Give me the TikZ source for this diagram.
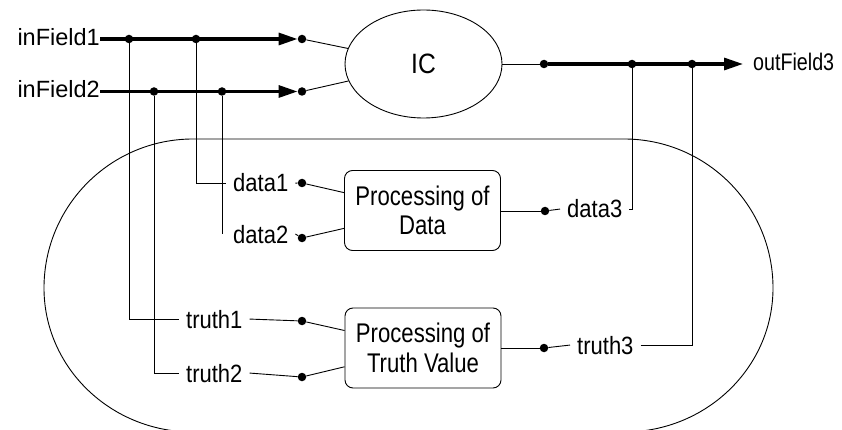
\documentclass[tikz,border=0pt]{standalone}
\usepackage{fontspec}
\setmainfont{Liberation Sans}
\newfontfamily\narrowsans[FakeStretch=0.88]{Liberation Sans}
\newfontfamily\boxsans[FakeStretch=0.82]{Liberation Sans}
\usetikzlibrary{shapes.geometric,arrows.meta}

\begin{document}
\begin{tikzpicture}[x=1pt,y=-1pt,
  wire/.style={line width=0.9pt},
  bus/.style={line width=3.2pt},
  bushead/.style={-{Triangle[length=19pt,width=12pt]}},
  junction/.style={circle,fill,inner sep=0pt,minimum size=8.5pt},
  lbl/.style={inner xsep=7pt,inner ysep=0pt,anchor=base west,font=\narrowsans\fontsize{25}{28}\selectfont},
  portlbl/.style={inner sep=0pt,anchor=base east,font=\fontsize{23.5}{26}\selectfont},
  procbox/.style={draw,line width=0.9pt,rounded corners=8pt,minimum width=156pt,
    minimum height=80pt,align=center,inner sep=0pt,font=\boxsans\fontsize{27}{29.5}\selectfont}
]
\useasboundingbox (0,0) rectangle (842,430);

% enclosing outline of the value processing part
\begin{scope}
  \clip (0,0) rectangle (842,430);
  \draw[wire] (193,139) -- (624,139)
    arc[start angle=90,end angle=0,radius=149pt]
    arc[start angle=0,end angle=-90,x radius=149pt,y radius=144pt]
    -- (193,432)
    arc[start angle=270,end angle=180,x radius=149pt,y radius=144pt]
    arc[start angle=180,end angle=90,radius=149pt];
\end{scope}

% input fields and junctions
\node[portlbl] (in1) at (100,46) {inField1};
\node[portlbl] (in2) at (100,98) {inField2};
\node[junction] (j1a) at (129,39) {};
\node[junction] (j1b) at (196,39) {};
\node[junction] (e1)  at (302,39) {};
\node[junction] (j2a) at (154,91.5) {};
\node[junction] (j2b) at (222,91.5) {};
\node[junction] (e2)  at (302,91.5) {};

% integrity constraint
\node[draw,wire,ellipse,minimum width=157pt,minimum height=108pt,inner sep=0pt,
  font=\narrowsans\fontsize{28}{30}\selectfont] (ic) at (423.5,64) {IC};

% output field
\node[junction] (o0) at (544,64) {};
\node[junction] (o1) at (632,64) {};
\node[junction] (o2) at (692,64) {};
\node[inner sep=0pt,anchor=base west,font=\boxsans\fontsize{24}{26}\selectfont] (out3) at (753,71) {outField3};

% data processing
\node[lbl] (d1) at (226,192) {data1};
\node[lbl] (d2) at (226,243) {data2};
\node[junction] (d1dot) at (302,183) {};
\node[junction] (d2dot) at (302,238) {};
\node[procbox] (dbox) at (422.5,210.5) {Processing of\\Data};
\node[junction] (d3dot) at (545,211) {};
\node[lbl] (d3) at (560,218) {data3};

% truth value processing
\node[lbl] (t1) at (179,328) {truth1};
\node[lbl] (t2) at (179,382) {truth2};
\node[junction] (t1dot) at (302,321) {};
\node[junction] (t2dot) at (302,377) {};
\node[procbox] (tbox) at (423,348) {Processing of\\Truth Value};
\node[junction] (t3dot) at (544,348) {};
\node[lbl] (t3) at (570,354) {truth3};

% buses
\draw[bus,bushead] (in1.east |- e1) -- (e1);
\draw[bus,bushead] (in2.east |- e2) -- (e2);
\draw[bus,bushead,shorten >=10pt] (o0) -- (out3.west |- o0);

% wires
\draw[wire] (e1) -- (ic);
\draw[wire] (e2) -- (ic);
\draw[wire] (ic.east) -- (o0);

\draw[wire] (j1a) |- (t1.west);
\draw[wire] (j2a) |- (t2.west);
\draw[wire] (j1b) |- (d1.west);
\draw[wire] (j2b) -- (j2b |- d2.west);

\draw[wire] (d1.east) -- (d1dot);
\draw[wire] (d2.east) -- (d2dot);
\draw[wire] (d1dot) -- (dbox);
\draw[wire] (d2dot) -- (dbox);
\draw[wire] (dbox.east |- d3dot) -- (d3dot);
\draw[wire] (d3dot) -- (d3.west);
\draw[wire] (d3.east) -| (o1);

\draw[wire] (t1.east) -- (t1dot);
\draw[wire] (t2.east) -- (t2dot);
\draw[wire] (t1dot) -- (tbox);
\draw[wire] (t2dot) -- (tbox);
\draw[wire] (tbox.east |- t3dot) -- (t3dot);
\draw[wire] (t3dot) -- (t3.west);
\draw[wire] (t3.east) -| (o2);
\end{tikzpicture}
\end{document}
